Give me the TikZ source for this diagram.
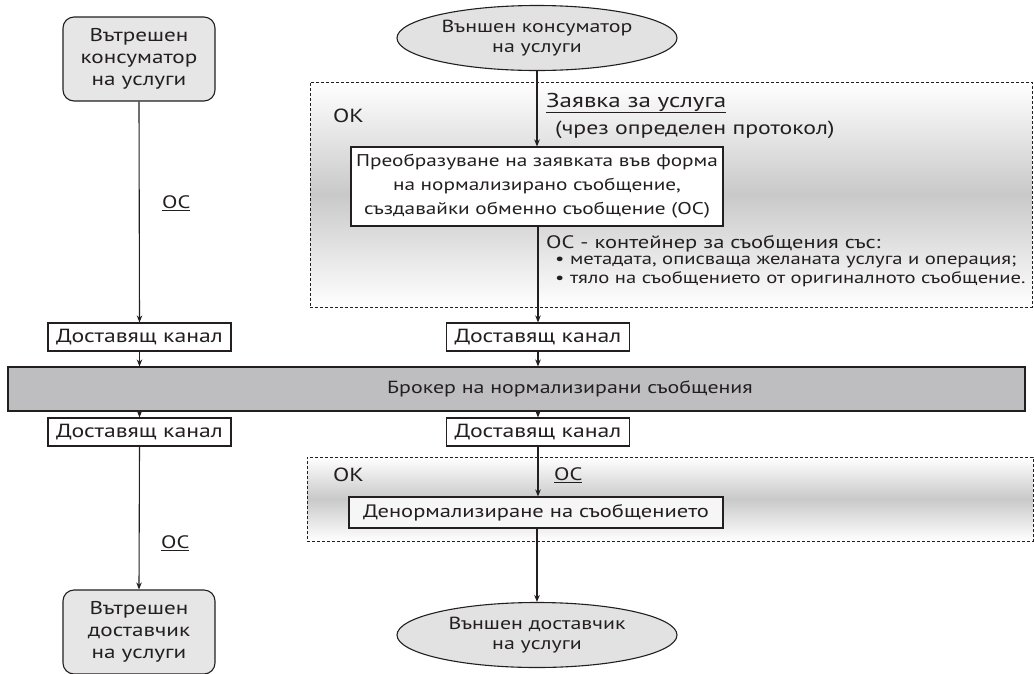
\documentclass[tikz,border=0pt]{standalone}
\usepackage{fontspec}
\setmainfont{PT Sans}[FakeStretch=1.25]
\usetikzlibrary{shapes.geometric,arrows.meta}
\definecolor{ink}{HTML}{231F20}
\definecolor{roundfill}{HTML}{E6E6E7}
\definecolor{ovalfill}{HTML}{E2E2E3}
\definecolor{brokerfill}{HTML}{BEBEC0}
\definecolor{bandmid}{HTML}{C9C9CA}
\newcommand\tsize[1]{\fontsize{#1}{#1}\selectfont}
\begin{document}
\begin{tikzpicture}[x=1pt,y=-1pt,
  every node/.style={text=ink, font=\tsize{19}},
  line/.style={draw=ink, line width=1.1pt},
  arr/.style={line, -{Stealth[length=7pt,width=5.5pt]}},
  rbox/.style={line, fill=roundfill, rounded corners=11pt, minimum width=152pt,
    minimum height=84pt, inner sep=0pt, align=center,
    font=\fontsize{18.5}{22}\selectfont},
  oval/.style={line, ellipse, fill=ovalfill, minimum width=280pt,
    minimum height=65pt, inner sep=0pt, align=center,
    font=\fontsize{17.5}{20}\selectfont},
  chan/.style={line, fill=white, minimum width=183pt, minimum height=28pt,
    inner sep=0pt, font=\tsize{19}},
  stepbox/.style={line, fill=white, inner sep=0pt, align=center},
  band/.style={draw=ink, line width=0.9pt, dash pattern=on 3pt off 2pt,
    top color=white, bottom color=white, middle color=bandmid, inner sep=0pt},
  lbl/.style={anchor=west, inner sep=0pt, font=\tsize{19}},
  small/.style={lbl, font=\tsize{16.5}}
]
\useasboundingbox (0,0) rectangle (1034,673);

% processing bands (dashed, shaded)
\node[band, minimum width=722pt, minimum height=225pt] (bandin) at (671,194.5) {};
\node[band, minimum width=726pt, minimum height=84pt] (bandout) at (670,499) {};

% end points
\node[rbox] (intcons) at (139,59) {Вътрешен\\консуматор\\на услуги};
\node[oval] (extcons) at (537,38) {Външен консуматор\\на услуги};
\node[rbox] (intprov) at (139,632) {Вътрешен\\доставчик\\на услуги};
\node[oval] (extprov) at (537,635) {Външен доставчик\\на услуги};

% inbound conversion
\node[stepbox, minimum width=372pt, minimum height=79pt,
  font=\fontsize{17}{24}\selectfont] (convert) at (537,186.5)
  {Преобразуване на заявката във форма\\на нормализирано съобщение,\\създавайки обменно съобщение (ОС)};

% delivery channels
\node[chan] (chinL) at (139.5,337) {Доставящ канал};
\node[chan] (chinR) at (538,337) {Доставящ канал};
\node[chan] (choutL) at (139.5,432) {Доставящ канал};
\node[chan] (choutR) at (538,432) {Доставящ канал};

% broker
\node[line, fill=brokerfill, minimum width=1017pt, minimum height=44pt,
  inner sep=0pt] (broker) at (516.5,389) {};
\node[inner sep=0pt, font=\tsize{17.5}] (brokertext) at (570,389)
  {Брокер на нормализирани съобщения};

% outbound conversion
\node[stepbox, fill=gray!7, minimum width=374pt, minimum height=31pt,
  font=\tsize{18}] (denorm) at (536,512.5) {Денормализиране на съобщението};

% labels
\node[lbl] (okin) at (333,116) {ОК};
\node[lbl, font=\tsize{20}] (request) at (546,103) {\underline{Заявка за услуга}};
\node[lbl] (proto) at (555,130) {(чрез определен протокол)};
\node[lbl, font=\tsize{18}] (oscont) at (546,244) {ОС - контейнер за съобщения със:};
\node[small] (item1) at (555,262) {• метадата, описваща желаната услуга и операция;};
\node[small] (item2) at (555,279) {• тяло на съобщението от оригиналното съобщение.};
\node[lbl, font=\tsize{18}] (osL1) at (162,203) {\underline{ОС}};
\node[lbl] (okout) at (333,475) {ОК};
\node[lbl, font=\tsize{18}] (osout) at (554,475) {\underline{ОС}};
\node[lbl, font=\tsize{18}] (osL2) at (161,543) {\underline{ОС}};

% connectors, left column
\draw[arr] (intcons.south) -- (chinL.north);
\draw[arr] (chinL.south) -- (chinL.south |- broker.north);
\draw[arr] (choutL.north |- broker.south) -- (choutL.north);
\draw[arr] (choutL.south) -- (intprov.north);

% connectors, middle column
\draw[arr] (extcons.south) -- (convert.north -| extcons.south);
\draw[arr] (convert.south -| chinR.north) -- (chinR.north);
\draw[arr] (chinR.south) -- (chinR.south |- broker.north);
\draw[arr] (choutR.north |- broker.south) -- (choutR.north);
\draw[arr] (choutR.south) -- (choutR.south |- denorm.north);
\draw[arr] (denorm.south -| extprov.north) -- (extprov.north);
\end{tikzpicture}
\end{document}
